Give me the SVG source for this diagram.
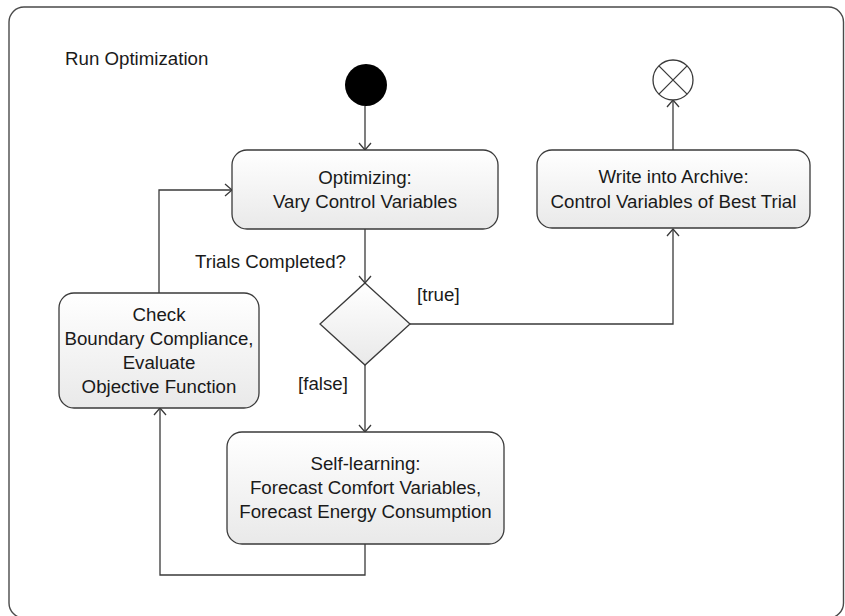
<svg xmlns="http://www.w3.org/2000/svg" width="845" height="616" viewBox="0 0 845 616">
  <defs>
    <linearGradient id="nodeFill" x1="0" y1="0" x2="0" y2="1">
      <stop offset="0" stop-color="#ffffff"/>
      <stop offset="1" stop-color="#e9e9e9"/>
    </linearGradient>
    <marker id="openArrow" markerWidth="12" markerHeight="14" refX="9" refY="7" orient="auto" markerUnits="userSpaceOnUse">
      <path d="M2,1 L9,7 L2,13" fill="none" stroke="#3a3a3a" stroke-width="1.3"/>
    </marker>
    <style>
      .frame { fill: #ffffff; stroke: #4a4a4a; stroke-width: 1.4; }
      .action { fill: url(#nodeFill); stroke: #3a3a3a; stroke-width: 1.3; }
      .label { font-family: "Liberation Sans", Arial, sans-serif; font-size: 18.7px; fill: #1a1a1a; }
      .mid { text-anchor: middle; }
      .edge { fill: none; stroke: #3a3a3a; stroke-width: 1.3; marker-end: url(#openArrow); }
    </style>
  </defs>

  <!-- activity frame -->
  <g id="frame">
    <rect class="frame" x="9" y="7" width="834.5" height="611" rx="15" ry="15"/>
    <text class="label" x="65" y="65">Run Optimization</text>
  </g>

  <!-- connectors -->
  <g id="connectors">
    <path class="edge" d="M365,106 L365,150"/>
    <path class="edge" d="M365,229 L365,283"/>
    <path class="edge" d="M410,324 L673,324 L673,229"/>
    <path class="edge" d="M673,150 L673,100"/>
    <path class="edge" d="M365,365 L365,432"/>
    <path class="edge" d="M365,544 L365,575 L160,575 L160,408"/>
    <path class="edge" d="M159,293 L159,190 L232,190"/>
    <text class="label" x="195" y="268">Trials Completed?</text>
    <text class="label" x="417" y="301">[true]</text>
    <text class="label" x="298" y="390">[false]</text>
  </g>

  <!-- initial node -->
  <g id="start">
    <circle cx="366" cy="85" r="21" fill="#000000"/>
  </g>

  <!-- final node -->
  <g id="end">
    <circle cx="673" cy="80" r="20" fill="#ffffff" stroke="#3a3a3a" stroke-width="1.3"/>
    <path d="M658.9,65.9 L687.1,94.1 M687.1,65.9 L658.9,94.1" stroke="#3a3a3a" stroke-width="1.3" fill="none"/>
  </g>

  <!-- Optimizing -->
  <g id="optimizing">
    <rect class="action" x="232" y="150" width="266" height="79" rx="15" ry="15"/>
    <text class="label mid" x="365" y="184">Optimizing:</text>
    <text class="label mid" x="365" y="208">Vary Control Variables</text>
  </g>

  <!-- Write into Archive -->
  <g id="archive">
    <rect class="action" x="537" y="150" width="273" height="78" rx="15" ry="15"/>
    <text class="label mid" x="673.5" y="183">Write into Archive:</text>
    <text class="label mid" x="673.5" y="208">Control Variables of Best Trial</text>
  </g>

  <!-- decision -->
  <g id="decision">
    <polygon class="action" points="365,283 410,324 365,365 320,324"/>
  </g>

  <!-- Check / Evaluate -->
  <g id="check">
    <rect class="action" x="59" y="293" width="200" height="115" rx="15" ry="15"/>
    <text class="label mid" x="159" y="321">Check</text>
    <text class="label mid" x="159" y="345">Boundary Compliance,</text>
    <text class="label mid" x="159" y="369">Evaluate</text>
    <text class="label mid" x="159" y="393">Objective Function</text>
  </g>

  <!-- Self-learning -->
  <g id="selfLearning">
    <rect class="action" x="227" y="432" width="277" height="112" rx="15" ry="15"/>
    <text class="label mid" x="365.5" y="470">Self-learning:</text>
    <text class="label mid" x="365.5" y="494">Forecast Comfort Variables,</text>
    <text class="label mid" x="365.5" y="518">Forecast Energy Consumption</text>
  </g>
</svg>
